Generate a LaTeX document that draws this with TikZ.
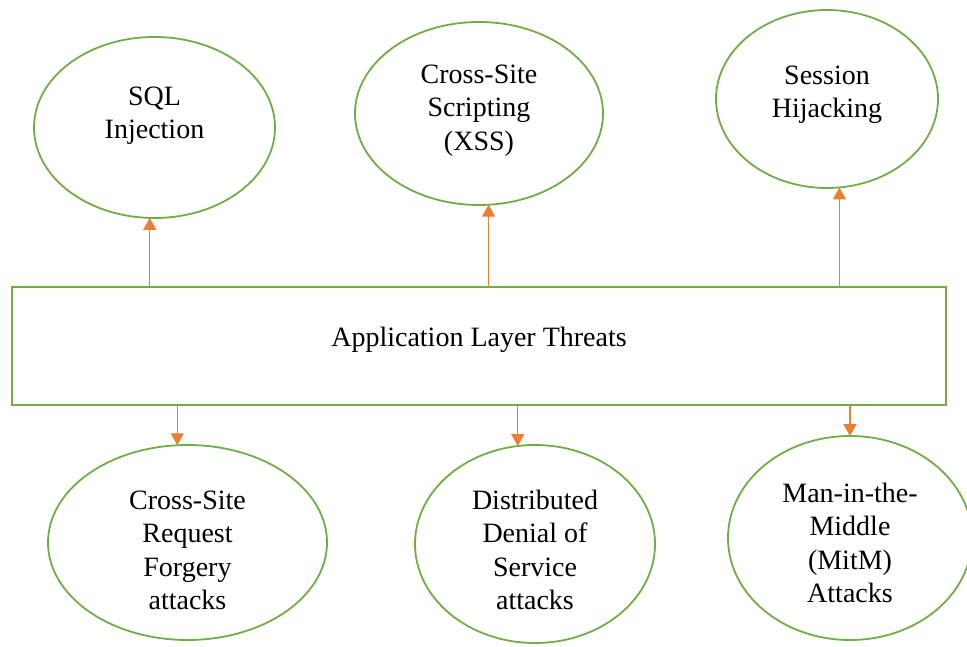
\documentclass[tikz,border=0pt]{standalone}
\usepackage{fontspec}
\setmainfont{Liberation Serif}
\usetikzlibrary{shapes.geometric,arrows.meta}
\definecolor{threatgreen}{RGB}{112,173,71}
\definecolor{threatorange}{RGB}{237,125,49}

\begin{document}
\begin{tikzpicture}
  \tikzset{
    threat/.style={
      ellipse,
      draw=threatgreen,
      line width=1.8pt,
      inner sep=0pt,
      outer sep=0pt
    },
    txt/.style={
      align=center,
      font=\fontsize{28}{33.5}\selectfont
    },
    layer/.style={
      rectangle,
      draw=threatgreen,
      line width=1.8pt,
      outer sep=0pt,
      minimum width=934pt,
      minimum height=118pt,
      text depth=18pt,
      font=\fontsize{28}{33.5}\selectfont
    },
    arr/.style={
      color=threatorange,
      line width=1.4pt,
      -{Triangle[width=13pt,length=12pt]}
    }
  }

  \useasboundingbox (0pt,0pt) rectangle (967pt,-647pt);

  \node[threat, minimum width=241pt, minimum height=181pt,
    label={[txt,yshift=12pt]center:{SQL\\Injection}}] (sql) at (154.5pt,-127.5pt) {};
  \node[threat, minimum width=248pt, minimum height=183pt,
    label={[txt,yshift=3pt]center:{Cross-Site\\Scripting\\(XSS)}}] (xss) at (479pt,-113.5pt) {};
  \node[threat, minimum width=222pt, minimum height=178pt,
    label={[txt,yshift=4pt]center:{Session\\Hijacking}}] (session) at (827pt,-99pt) {};

  \node[layer] (threats) at (479pt,-346pt) {Application Layer Threats};

  \node[threat, minimum width=279pt, minimum height=195pt,
    label={[txt,yshift=-8pt]center:{Cross-Site\\Request\\Forgery\\attacks}}] (csrf) at (187.5pt,-542.5pt) {};
  \node[threat, minimum width=240pt, minimum height=198pt,
    label={[txt,yshift=-6pt]center:{Distributed\\Denial of\\Service\\attacks}}] (ddos) at (535pt,-544pt) {};
  \node[threat, minimum width=244pt, minimum height=204pt,
    label={[txt,yshift=-5pt]center:{Man-in-the-\\Middle\\(MitM)\\Attacks}}] (mitm) at (850pt,-538pt) {};

  \draw[arr] (threats.north -| sql.267) -- (sql.267);
  \draw[arr] (threats.north -| xss.276) -- (xss.276);
  \draw[arr] (threats.north -| session.278) -- (session.278);

  \draw[arr] (threats.south -| csrf.96) -- (csrf.96);
  \draw[arr] (threats.south -| ddos.100) -- (ddos.100);
  \draw[arr] (threats.south -| mitm.90) -- (mitm.90);
\end{tikzpicture}
\end{document}
